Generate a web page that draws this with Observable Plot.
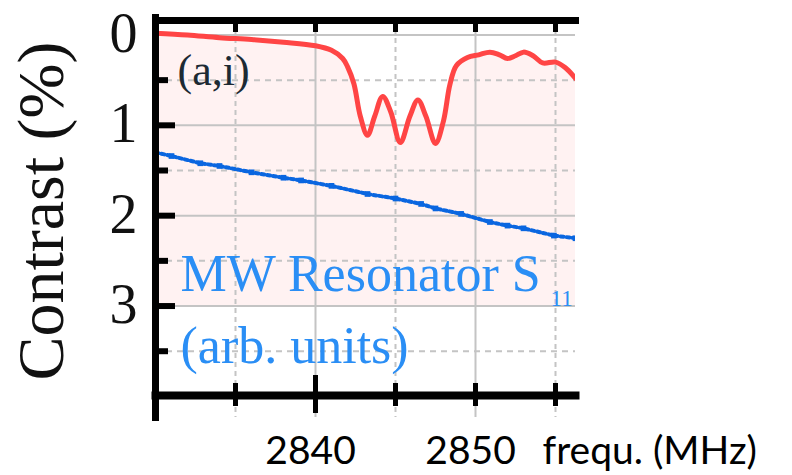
<!DOCTYPE html>
<html>
<head>
<meta charset="utf-8">
<script src="https://cdn.jsdelivr.net/npm/d3@7"></script>
<script src="https://cdn.jsdelivr.net/npm/@observablehq/plot@0.6"></script>
<style>
  html, body { margin: 0; padding: 0; background: #fff; }
  #chart svg { display: block; }
</style>
</head>
<body>
<div id="chart"></div>
<script>
// ODMR contrast trace (red)
const odmrFreq = [2830, 2832, 2834, 2836, 2838, 2840, 2841, 2841.7, 2842, 2842.4, 2842.8, 2843.25, 2843.7, 2844.2, 2844.7, 2845.3, 2845.9, 2846.4, 2846.9, 2847.5, 2848.0, 2848.4, 2848.8, 2849.5, 2850.2, 2850.9, 2851.5, 2852, 2852.5, 2853, 2853.6, 2854.2, 2855, 2855.6, 2856.25];
const odmrContrast = [-0.02, 0.0, 0.03, 0.05, 0.08, 0.12, 0.17, 0.26, 0.35, 0.54, 0.9, 1.11, 0.9, 0.68, 0.85, 1.19, 0.9, 0.72, 0.9, 1.2, 0.95, 0.55, 0.34, 0.25, 0.22, 0.19, 0.22, 0.26, 0.23, 0.19, 0.23, 0.31, 0.3, 0.36, 0.48];
// MW resonator S11 trace (blue, arb. units)
const s11Freq = [2830, 2831, 2832.8, 2834, 2836, 2838, 2839.1, 2841, 2843.25, 2845, 2846.6, 2847.5, 2849.1, 2850.9, 2852, 2853, 2854.9, 2856.25];
const s11Value = [1.30, 1.34, 1.42, 1.45, 1.52, 1.58, 1.61, 1.67, 1.76, 1.81, 1.87, 1.92, 1.98, 2.07, 2.11, 2.14, 2.22, 2.25];
// ticks
const xMajor = [2840, 2850];
const xMinor = [2835, 2845, 2855];
const xLabels = [2840, 2850];
const yMajor = [0, 1, 2, 3];
const yMinor = [0.5, 1.5, 2.5, 3.5];
const yLabels = [0, 1, 2, 3];
const fillBase = 3;

const odmr = odmrFreq.map((f, i) => ({f, c: odmrContrast[i]}));
const s11 = s11Freq.map((f, i) => ({f, v: s11Value[i]}));

const serif = "Liberation Serif, Times New Roman, serif";
const sans = "Lato, Open Sans, sans-serif";
const frameW = 792 - 155 - 217;
const frameH = 475 - 20 - 80;

const chart = Plot.plot({
  width: 792,
  height: 475,
  marginLeft: 155,
  marginRight: 217,
  marginTop: 20,
  marginBottom: 80,
  style: {background: "#fff", overflow: "visible"},
  x: {domain: [2830, 2856.25], axis: null},
  y: {domain: [-0.16, 3.99], reverse: true, axis: null},
  marks: [
    Plot.areaY(odmr, {x: "f", y1: "c", y2: () => fillBase, fill: "#fff2f2", curve: "catmull-rom", clip: true}),
    // grid
    Plot.ruleX(xMajor, {stroke: "#c4c4c4", strokeWidth: 2, insetBottom: -22}),
    Plot.ruleX(xMinor, {stroke: "#c4c4c4", strokeWidth: 2, strokeDasharray: "5,4", insetBottom: -22}),
    Plot.ruleY(yMajor, {stroke: "#c4c4c4", strokeWidth: 2}),
    Plot.ruleY(yMinor, {stroke: "#c4c4c4", strokeWidth: 2, strokeDasharray: "6,5"}),
    // data
    Plot.line(s11, {x: "f", y: "v", stroke: "#0a66e0", strokeWidth: 4, strokeDasharray: "3,3", clip: true}),
    Plot.dot(s11, {x: "f", y: "v", symbol: "square", r: 3.2, fill: "#0a66e0", clip: true}),
    Plot.line(odmr, {x: "f", y: "c", stroke: "#ff4545", strokeWidth: 5, curve: "catmull-rom", clip: true}),
    // frame lines
    Plot.frame({anchor: "top", stroke: "#000", strokeWidth: 7}),
    Plot.frame({anchor: "bottom", stroke: "#000", strokeWidth: 8}),
    Plot.frame({anchor: "left", stroke: "#000", strokeWidth: 7, insetBottom: -22, insetTop: -3}),
    // ticks
    Plot.tickX(xMajor.concat(xMinor), {x: d => d, stroke: "#000", strokeWidth: 5, insetBottom: frameH - 12}),
    Plot.tickX([2840], {x: d => d, stroke: "#000", strokeWidth: 5, insetTop: frameH - 20, insetBottom: -18}),
    Plot.tickX(xMinor.concat([2850]), {x: d => d, stroke: "#000", strokeWidth: 5, insetTop: frameH - 12, insetBottom: -11}),
    Plot.tickY(yMajor.slice(1), {y: d => d, stroke: "#000", strokeWidth: 6, insetRight: frameW - 20}),
    Plot.tickY(yMinor, {y: d => d, stroke: "#000", strokeWidth: 6, insetRight: frameW - 13}),
    // y tick labels
    Plot.text(yLabels, {y: d => d, text: d => String(d), frameAnchor: "left", dx: -18, dy: -1, textAnchor: "end", lineAnchor: "middle", fontSize: 56, fontFamily: serif, fill: "#111"}),
    // y label
    Plot.text(["Contrast (%)"], {frameAnchor: "left", dx: -93, dy: 3, rotate: -90, textAnchor: "middle", lineAnchor: "bottom", fontSize: 66, fontFamily: serif, fill: "#111"}),
    // x labels
    Plot.text(xLabels, {x: d => d, text: d => String(d), frameAnchor: "bottom", dy: 68, dx: -5, lineAnchor: "bottom", textAnchor: "middle", fontSize: 39, fontFamily: sans, fill: "#000"}),
    Plot.text(["frequ. (MHz)"], {frameAnchor: "bottom-right", dx: -33, dy: 68, lineAnchor: "bottom", textAnchor: "start", fontSize: 39, fontFamily: sans, fill: "#000"}),
    // annotations
    Plot.text(["(a,i)"], {frameAnchor: "top-left", dx: 22, dy: 64, lineAnchor: "bottom", textAnchor: "start", fontSize: 44, fontFamily: serif, fill: "#1c2a33"}),
    Plot.text(["MW Resonator S"], {frameAnchor: "top-left", dx: 25, dy: 270, lineAnchor: "bottom", textAnchor: "start", fontSize: 52, fontFamily: serif, fill: "#2a8ef5", clip: true}),
    Plot.text(["11"], {frameAnchor: "top-left", dx: 395, dy: 285, lineAnchor: "bottom", textAnchor: "start", fontSize: 23, fontFamily: serif, fill: "#2a8ef5", clip: true}),
    Plot.text(["(arb. units)"], {frameAnchor: "top-left", dx: 25, dy: 342, lineAnchor: "bottom", textAnchor: "start", fontSize: 52, fontFamily: serif, fill: "#2a8ef5", clip: true})
  ]
});
document.getElementById("chart").appendChild(chart);
</script>
</body>
</html>
